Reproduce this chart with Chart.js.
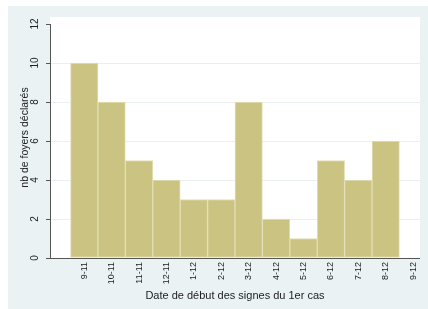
<!DOCTYPE html>
<html>
<head>
<meta charset="utf-8">
<script src="https://cdn.jsdelivr.net/npm/chart.js@4"></script>
<style>
  html, body { margin: 0; padding: 0; background: #fff; }
  canvas { display: block; }
</style>
</head>
<body>
<canvas id="myChart" width="428" height="309"></canvas>
<script>
const periods = ['9-11', '10-11', '11-11', '12-11', '1-12', '2-12', '3-12', '4-12', '5-12', '6-12', '7-12', '8-12', '9-12'];
const foyers = [10, 8, 5, 4, 3, 3, 8, 2, 1, 5, 4, 6, 0];
const yTicks = [0, 2, 4, 6, 8, 10, 12];

const frame = {
  id: 'frame',
  beforeDraw(chart) {
    const { ctx, chartArea } = chart;
    ctx.save();
    ctx.fillStyle = '#ffffff';
    ctx.fillRect(0, 0, chart.width, chart.height);
    ctx.fillStyle = '#eaf2f3';
    ctx.fillRect(8, 6, chart.width - 8, chart.height - 6);
    ctx.fillStyle = '#ffffff';
    ctx.fillRect(chartArea.left, chartArea.top, chartArea.right - chartArea.left, chartArea.bottom - chartArea.top);
    ctx.restore();
  },
  afterDraw(chart) {
    const { ctx } = chart;
    const y = chart.scales.y;
    const x = chart.chartArea.left + 0.5;
    ctx.save();
    ctx.strokeStyle = '#555555';
    ctx.lineWidth = 1;
    ctx.beginPath();
    ctx.moveTo(x, y.getPixelForValue(12));
    ctx.lineTo(x, y.getPixelForValue(0));
    ctx.stroke();
    ctx.restore();
  }
};

const ctx = document.getElementById('myChart').getContext('2d');
const myChart = new Chart(ctx, {
  type: 'bar',
  data: {
    datasets: [
      {
        data: foyers.map((v, i) => ({ x: i, y: v })),
        backgroundColor: '#cac382',
        borderColor: '#e3dfb3',
        borderWidth: 1,
        borderSkipped: false,
        barPercentage: 1,
        categoryPercentage: 1,
      },
    ],
  },
  options: {
    responsive: false,
    animation: false,
    layout: { padding: { left: 0, top: 17, right: 4, bottom: 0 } },
    plugins: {
      legend: { display: false },
      tooltip: { enabled: false },
    },
    scales: {
      x: {
        type: 'linear',
        offset: false,
        min: -1.25,
        max: 12.25,
        afterBuildTicks: (scale) => {
          scale.ticks = periods.map((p, i) => ({ value: i }));
        },
        afterFit: (scale) => { scale.height = 51; },
        grid: { display: false, drawTicks: false },
        border: { display: true, color: '#555555', width: 1 },
        ticks: {
          minRotation: 90,
          maxRotation: 90,
          padding: 4,
          autoSkip: false,
          color: '#222',
          font: { family: 'Liberation Sans', size: 9 },
          callback: (v) => periods[v],
        },
        title: {
          display: true,
          text: 'Date de début des signes du 1er cas',
          color: '#222',
          font: { family: 'Liberation Sans', size: 11 },
          padding: { top: 0, bottom: 6 },
        },
      },
      y: {
        min: 0,
        max: 12.36,
        afterBuildTicks: (scale) => {
          scale.ticks = yTicks.map((v) => ({ value: v }));
        },
        afterFit: (scale) => { scale.width = 50; },
        grid: {
          color: (c) => (c.tick && (c.tick.value === 12 || c.tick.value === 0) ? 'rgba(0,0,0,0)' : '#e9f0f1'),
          tickColor: '#555555',
          tickLength: 4,
        },
        border: { display: false },
        ticks: {
          minRotation: 90,
          maxRotation: 90,
          crossAlign: 'center',
          padding: 5,
          color: '#222',
          font: { family: 'Liberation Sans', size: 10 },
        },
        title: {
          display: true,
          text: 'nb de foyers déclarés',
          color: '#222',
          font: { family: 'Liberation Sans', size: 10.5 },
          padding: { top: 19, bottom: 0 },
        },
      },
    },
  },
  plugins: [frame],
});
</script>
</body>
</html>
